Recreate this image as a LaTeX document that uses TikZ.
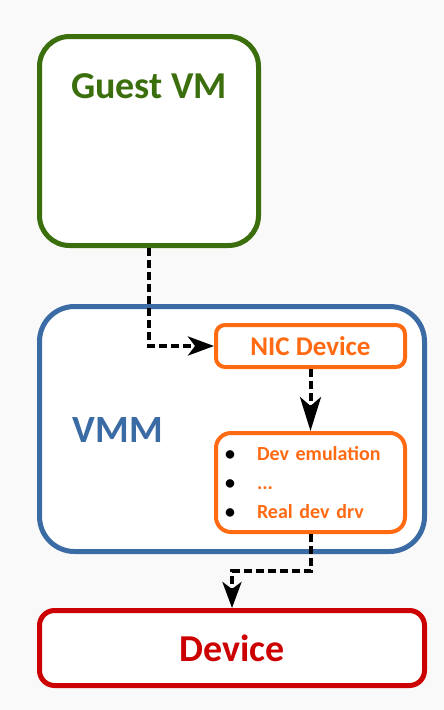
\documentclass[tikz,border=0pt]{standalone}
\usepackage{fontspec}
\setmainfont{Carlito}
\usetikzlibrary{arrows.meta,positioning}
\definecolor{guestgreen}{HTML}{3B6E0C}
\definecolor{vmmblue}{HTML}{3A6BA5}
\definecolor{nicorange}{HTML}{FF6A13}
\definecolor{devred}{HTML}{CC0000}
\definecolor{bggray}{HTML}{F9F9F9}

\begin{document}
\begin{tikzpicture}[x=1pt,y=-1pt,
    box/.style={draw, fill=white, line width=5pt, inner sep=0pt},
    flow/.style={draw=black, line width=4pt, dash pattern=on 8pt off 4pt,
        -{Stealth[length=26pt,width=19pt,inset=7pt]}}]
    % background
    \useasboundingbox (0,0) rectangle (444,710);
    \fill[bggray] (0,0) rectangle (444,710);

    % Guest VM
    \node[box, draw=guestgreen, rounded corners=30pt,
        minimum width=219pt, minimum height=209pt] (guest) at (149,141) {};
    \node[text=guestgreen, font=\fontsize{38}{46}\selectfont\bfseries] (guestlbl) at (149,86) {Guest VM};

    % VMM
    \node[box, draw=vmmblue, rounded corners=35pt,
        minimum width=385pt, minimum height=245pt] (vmm) at (232,429) {};
    \node[text=vmmblue, font=\fontsize{38.5}{46}\selectfont\bfseries] (vmmlbl) at (118,430) {VMM};

    % NIC device
    \node[box, draw=nicorange, line width=4pt, rounded corners=9pt,
        minimum width=189pt, minimum height=42pt, text=nicorange,
        font=\fontsize{27}{32}\selectfont\bfseries] (nic) at (310.5,346) {NIC Device};

    % emulation / driver
    \node[box, draw=nicorange, line width=4pt, rounded corners=15pt,
        minimum width=189pt, minimum height=99pt, inner xsep=9pt,
        text width=171pt, align=left, text=nicorange,
        font=\fontsize{20}{29}\selectfont\bfseries] (dev) at (310.5,482.5)
        {\makebox[32pt][l]{\color{black}\textbullet}Dev emulation\\
         \makebox[32pt][l]{\color{black}\textbullet}...\\
         \makebox[32pt][l]{\color{black}\textbullet}Real dev drv};

    % Device
    \node[box, draw=devred, rounded corners=15pt,
        minimum width=385pt, minimum height=75pt, text=devred,
        font=\fontsize{38}{46}\selectfont\bfseries] (device) at (232,648) {Device};

    % connectors
    \draw[flow] (guest.south) |- (nic.west);
    \draw[flow, -{Stealth[length=34pt,width=21pt,inset=9pt]}] (nic.south) -- (dev.north);
    \draw[flow] (dev.south) -- ++(0,37) -| (device.north);
\end{tikzpicture}
\end{document}
